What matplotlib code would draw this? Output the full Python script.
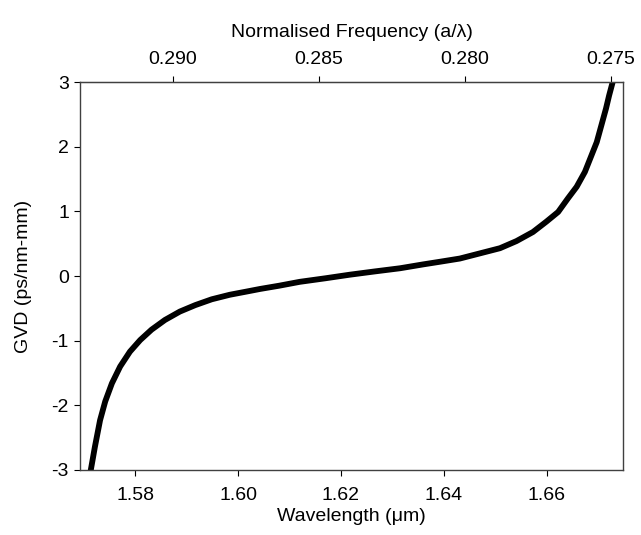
import numpy as np
import matplotlib.pyplot as plt

plt.rcParams['font.family'] = ['Liberation Sans', 'DejaVu Sans']
plt.rcParams['axes.unicode_minus'] = False

# values
wavelength = [1.5714, 1.5722, 1.5732, 1.5742, 1.5755, 1.5771, 1.5790, 1.5810,
              1.5832, 1.5858, 1.5887, 1.5917, 1.5949, 1.5984, 1.6017, 1.6043,
              1.6080, 1.6120, 1.6170, 1.6217, 1.6265, 1.6315, 1.6360, 1.6392,
              1.6431, 1.6470, 1.6509, 1.6541, 1.6573, 1.6599, 1.6622, 1.6641,
              1.6658, 1.6674, 1.6687, 1.6697, 1.6706, 1.6715, 1.6721, 1.6728]
gvd = [-3.00, -2.64, -2.23, -1.94, -1.66, -1.40, -1.17, -0.99,
       -0.83, -0.68, -0.55, -0.45, -0.36, -0.29, -0.24, -0.20,
       -0.15, -0.09, -0.035, 0.02, 0.07, 0.12, 0.18, 0.22,
       0.27, 0.35, 0.43, 0.54, 0.68, 0.84, 0.99, 1.20,
       1.38, 1.61, 1.87, 2.07, 2.33, 2.59, 2.79, 3.00]
wl_ticks = [1.58, 1.60, 1.62, 1.64, 1.66]
freq_ticks = [0.290, 0.285, 0.280, 0.275]
gvd_ticks = [-3, -2, -1, 0, 1, 2, 3]

# top axis is linear in frequency (as drawn in the original)
f0, k = 0.291301, 0.17637


def to_freq(l):
    return f0 - k * (l - 1.58)


def to_wl(f):
    return 1.58 + (f0 - f) / k


fig = plt.figure(figsize=(6.41, 5.35), dpi=100)
ax = fig.add_axes([0.1248, 0.1215, 0.8471, 0.7252])

ax.plot(wavelength, gvd, color='black', lw=4.2, solid_joinstyle='round')

ax.set_xlim(1.5693, 1.6748)
ax.set_ylim(-3, 3)
ax.set_xticks(wl_ticks)
ax.set_xticklabels(['%.2f' % t for t in wl_ticks])
ax.set_yticks(gvd_ticks)
ax.set_xlabel('Wavelength (\u03bcm)', fontsize=14, labelpad=3)
ax.set_ylabel('GVD (ps/nm-mm)', fontsize=14, labelpad=14)
ax.tick_params(direction='out', length=4, width=0.8, labelsize=14, pad=4)
ax.tick_params(axis='x', pad=8)

for s in ax.spines.values():
    s.set_color('#404040')
    s.set_linewidth(1)

top = ax.secondary_xaxis('top', functions=(to_freq, to_wl))
top.set_xticks(freq_ticks)
top.set_xticklabels(['%.3f' % t for t in freq_ticks])
top.tick_params(direction='out', length=4, width=0.8, labelsize=14, pad=6)
top.spines['top'].set_color('#404040')
top.set_xlabel('Normalised Frequency (a/\u03bb)', fontsize=14, labelpad=10)

fig.savefig('out.png', dpi=100)
